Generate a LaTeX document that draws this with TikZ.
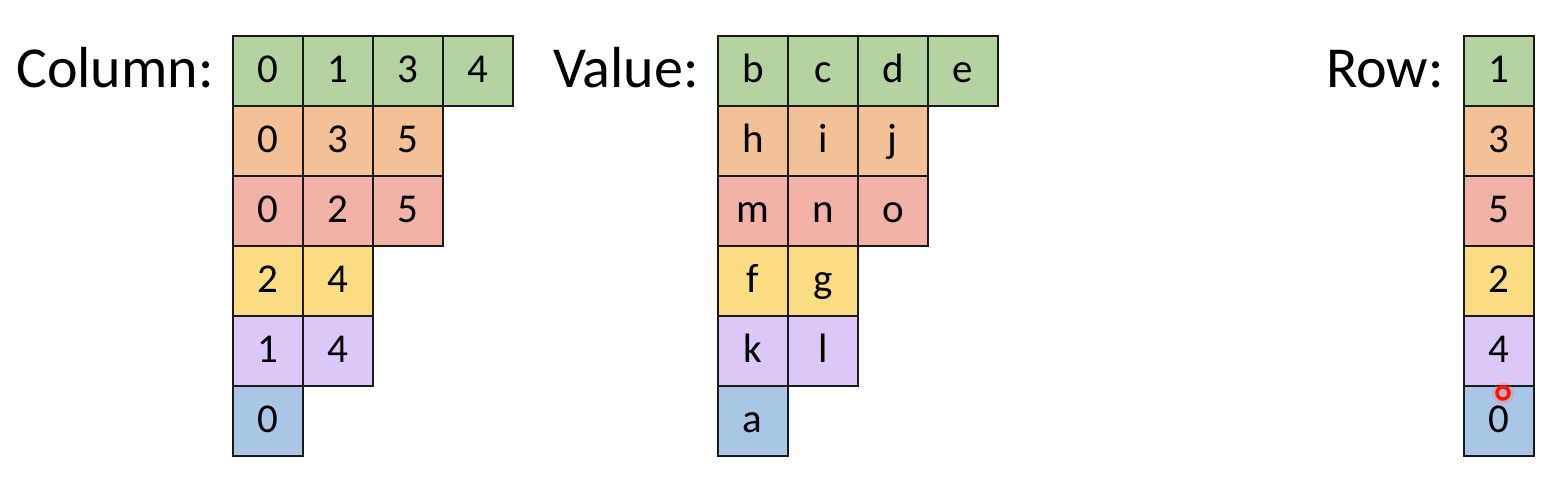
\documentclass[tikz,border=0pt]{standalone}
\usepackage{fontspec}
\setmainfont{Carlito}
\definecolor{cg}{HTML}{B4D3A0}
\definecolor{co}{HTML}{F4C196}
\definecolor{cr}{HTML}{F3B2A7}
\definecolor{cy}{HTML}{FADD82}
\definecolor{cp}{HTML}{DCC8F8}
\definecolor{cb}{HTML}{A9C6E6}
\definecolor{linec}{HTML}{1A1A1A}
\tikzset{
  cell/.style={draw=linec, line width=1.6pt, minimum width=70pt, minimum height=70pt,
    inner sep=0pt, anchor=north west, font=\fontsize{41}{41}\selectfont,
    text height=24pt, text depth=0pt},
  lab/.style={anchor=base east, inner sep=0pt, font=\fontsize{58}{58}\selectfont}
}
\begin{document}
\begin{tikzpicture}[x=1pt,y=-1pt]
\useasboundingbox (0,0) rectangle (1554,492);
\fill[white] (0,0) rectangle (1554,492);
% Column grid
\foreach [count=\r] \col/\items in {cg/{0,1,3,4},co/{0,3,5},cr/{0,2,5},cy/{2,4},cp/{1,4},cb/{0}}{
  \foreach [count=\c] \t in \items {
    \node[cell, fill=\col] (col-\r-\c) at ({232+70*(\c-1)},{35+70*(\r-1)}) {\t};
  }
}
% Value grid
\foreach [count=\r] \col/\items in {cg/{b,c,d,e},co/{h,i,j},cr/{m,n,o},cy/{f,g},cp/{k,l},cb/{a}}{
  \foreach [count=\c] \t in \items {
    \node[cell, fill=\col] (val-\r-\c) at ({717+70*(\c-1)},{35+70*(\r-1)}) {\t};
  }
}
% Row grid
\foreach [count=\r] \col/\t in {cg/1,co/3,cr/5,cy/2,cp/4,cb/0}{
  \node[cell, fill=\col] (row-\r) at (1463,{35+70*(\r-1)}) {\t};
}
% labels
\node[lab] (lcol) at (214,88) {Column:};
\node[lab] (lval) at (699,88) {Value:};
\node[lab] (lrow) at (1444,88) {Row:};
% cursor marker
\fill[red!60, opacity=0.25] (1503,393) circle (11pt);
\draw[red!85!orange, line width=3.5pt] (1503,393) circle (6pt);
\end{tikzpicture}
\end{document}
